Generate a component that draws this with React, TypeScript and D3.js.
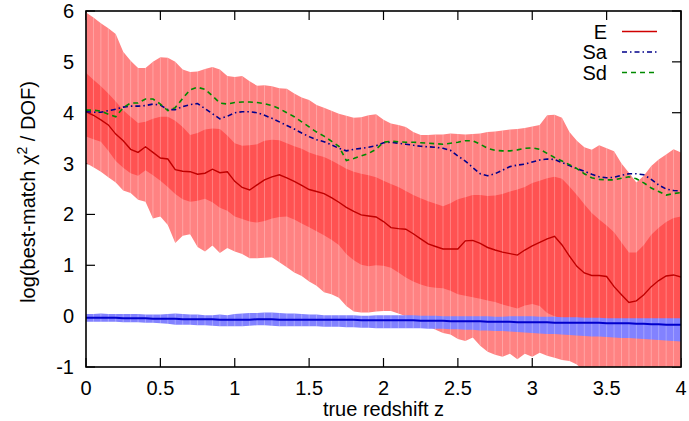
import React from "react";
import * as d3 from "d3";

const W = 689;
const H = 421;
const M = { left: 86, right: 681, top: 11, bottom: 367 };

// redshift grid (0 .. 4, step 0.05)
const zs: number[] = d3.range(81).map((i) => +(i * 0.05).toFixed(2));

const xTicks = [0, 0.5, 1, 1.5, 2, 2.5, 3, 3.5, 4];
const xTickLabels = ["0", "0.5", "1", "1.5", "2", "2.5", "3", "3.5", "4"];
const yTicks = [-1, 0, 1, 2, 3, 4, 5, 6];
const yTickLabels = ["-1", "0", "1", "2", "3", "4", "5", "6"];

// E: outer (light) band
const eOuterHi = [
  5.97, 5.87, 5.76, 5.66, 5.55, 5.2, 5.02, 4.88, 4.88, 5.0, 5.09,
  5.08, 5.0, 4.85, 4.8, 4.81, 4.86, 4.9, 4.85, 4.72, 4.7,
  4.72, 4.62, 4.53, 4.54, 4.52, 4.48, 4.47, 4.38, 4.3, 4.25,
  4.15, 4.1, 4.04, 3.98, 3.94, 3.9, 3.91, 3.95, 3.97, 3.86,
  3.79, 3.76, 3.72, 3.62, 3.56, 3.56, 3.57, 3.57, 3.59, 3.58,
  3.57, 3.58, 3.59, 3.62, 3.63, 3.65, 3.67, 3.68, 3.7, 3.73,
  3.76, 3.95, 3.96, 3.9, 3.62, 3.45, 3.32, 3.27, 3.36, 3.3,
  3.24, 3.0, 2.82, 2.63, 2.76, 2.95, 3.08, 3.18, 3.28, 3.22,
];
const eOuterLo = [
  3.01, 2.93, 2.84, 2.73, 2.63, 2.47, 2.42, 2.29, 2.25, 1.92, 1.96,
  1.79, 1.44, 1.58, 1.61, 1.36, 1.27, 1.39, 1.24, 1.34, 1.27,
  1.22, 1.14, 1.14, 1.15, 1.16, 1.06, 0.96, 0.86, 0.79, 0.68,
  0.6, 0.47, 0.43, 0.36, 0.2, 0.09, 0.07, 0.07, 0.09, 0.1,
  0.1, 0.05, 0.0, -0.06, -0.12, -0.2, -0.27, -0.33, -0.36, -0.45,
  -0.49, -0.42, -0.58, -0.7, -0.76, -0.8, -0.74, -0.85, -0.74, -0.8,
  -0.72, -0.78, -0.82, -0.86, -0.88, -0.95, -1.1, -1.2, -1.25, -1.3,
  -1.3, -1.3, -1.3, -1.3, -1.3, -1.3, -1.3, -1.3, -1.3, -1.3,
];
// E: inner (dark) band
const eInnerHi = [
  4.78, 4.65, 4.52, 4.38, 4.22, 4.05, 3.92, 3.8, 3.82, 3.88, 3.92,
  3.92, 3.84, 3.72, 3.56, 3.6, 3.67, 3.69, 3.68, 3.55, 3.4,
  3.35, 3.36, 3.38, 3.45, 3.47, 3.46, 3.4, 3.34, 3.29, 3.22,
  3.17, 3.13, 3.06, 2.98, 2.9, 2.84, 2.8, 2.77, 2.73, 2.66,
  2.6, 2.54, 2.46, 2.38, 2.32, 2.26, 2.21, 2.16, 2.22, 2.3,
  2.34, 2.38, 2.38, 2.36, 2.37, 2.4, 2.45, 2.49, 2.54, 2.62,
  2.66, 2.71, 2.74, 2.7, 2.55, 2.38, 2.2, 2.03, 1.9, 1.78,
  1.65, 1.45, 1.25, 1.25, 1.4, 1.6, 1.74, 1.85, 1.93, 1.96,
];
const eInnerLo = [
  3.53, 3.48, 3.43, 3.25, 3.05, 2.92, 2.81, 2.76, 2.87, 2.77, 2.66,
  2.54, 2.4, 2.3, 2.25, 2.27, 2.31, 2.24, 2.13, 2.07, 1.96,
  1.91, 1.86, 1.84, 1.87, 1.92, 1.95, 1.96, 1.9, 1.82, 1.75,
  1.67, 1.59, 1.5, 1.4, 1.22, 1.1, 1.01, 0.98, 1.0, 0.99,
  0.95, 0.86, 0.76, 0.68, 0.62, 0.58, 0.56, 0.55, 0.5, 0.43,
  0.4, 0.37, 0.34, 0.31, 0.28, 0.23, 0.19, 0.15, 0.21, 0.24,
  0.2, 0.06, 0.0, -0.05, -0.08, -0.12, -0.15, -0.18, -0.2, -0.22,
  -0.24, -0.26, -0.28, -0.28, -0.28, -0.28, -0.28, -0.28, -0.28, -0.28,
];
// E: median
const eMedian = [
  4.02, 3.95, 3.86, 3.76, 3.58, 3.45, 3.28, 3.22, 3.33, 3.22, 3.11,
  3.09, 2.88, 2.85, 2.84, 2.79, 2.81, 2.89, 2.82, 2.84, 2.65,
  2.53, 2.48, 2.58, 2.68, 2.74, 2.78, 2.72, 2.65, 2.57, 2.49,
  2.45, 2.41, 2.33, 2.24, 2.14, 2.06, 1.99, 1.97, 1.95, 1.86,
  1.74, 1.72, 1.71, 1.62, 1.52, 1.42, 1.37, 1.32, 1.32, 1.32,
  1.48, 1.49, 1.43, 1.35, 1.3, 1.26, 1.23, 1.2, 1.3, 1.38,
  1.45, 1.52, 1.57, 1.4, 1.18, 0.98, 0.85, 0.8, 0.8, 0.78,
  0.58, 0.42, 0.27, 0.3, 0.42, 0.58, 0.7, 0.79, 0.81, 0.77,
];
// Sa
const saMedian = [
  4.02, 4.01, 4.01, 4.04, 4.07, 4.11, 4.13, 4.13, 4.14, 4.17, 4.15,
  4.06, 4.06, 4.12, 4.16, 4.18, 4.08, 3.98, 3.88, 3.93, 4.0,
  4.02, 4.02, 4.0, 3.95, 3.89, 3.82, 3.75, 3.68, 3.6, 3.53,
  3.47, 3.43, 3.37, 3.3, 3.25, 3.28, 3.3, 3.32, 3.35, 3.41,
  3.42, 3.4, 3.38, 3.36, 3.34, 3.33, 3.32, 3.3, 3.26, 3.15,
  3.05, 2.92, 2.8, 2.76, 2.8, 2.87, 2.94, 2.97, 2.99, 3.03,
  3.07, 3.09, 3.08, 3.02, 2.96, 2.9, 2.85, 2.79, 2.74, 2.72,
  2.73, 2.77, 2.8, 2.8, 2.78, 2.69, 2.58, 2.5, 2.47, 2.46,
];
// Sd
const sdMedian = [
  4.05, 4.05, 4.03, 3.97, 3.92, 4.1, 4.19, 4.19, 4.27, 4.27, 4.17,
  4.04, 4.1, 4.28, 4.45, 4.5, 4.46, 4.33, 4.19, 4.17, 4.2,
  4.21, 4.21, 4.2, 4.18, 4.14, 4.08, 4.0, 3.92, 3.82, 3.72,
  3.62, 3.54, 3.44, 3.34, 3.06, 3.1, 3.15, 3.2, 3.28, 3.42,
  3.44, 3.43, 3.42, 3.42, 3.41, 3.4, 3.39, 3.38, 3.4, 3.42,
  3.45, 3.45, 3.38, 3.3, 3.26, 3.25, 3.25, 3.27, 3.3, 3.31,
  3.28, 3.2, 3.12, 3.05, 2.98, 2.9, 2.8, 2.72, 2.69, 2.68,
  2.68, 2.71, 2.74, 2.7, 2.62, 2.52, 2.45, 2.38, 2.41, 2.43,
];
// band and median near zero
const zeroHi = [
  0.04, 0.04, 0.05, 0.04, 0.04, 0.04, 0.04, 0.04, 0.03, 0.03, 0.03,
  0.04, 0.05, 0.04, 0.03, 0.03, 0.02, 0.02, 0.03, 0.02, 0.04,
  0.05, 0.06, 0.06, 0.07, 0.07, 0.06, 0.05, 0.05, 0.04, 0.03,
  0.03, 0.02, 0.02, 0.02, 0.02, 0.02, 0.01, 0.01, 0.02, 0.02,
  0.02, 0.02, 0.02, 0.02, 0.01, 0.01, 0.01, 0.0, 0.0, 0.0,
  0.0, 0.0, 0.0, 0.0, -0.01, -0.01, 0.0, 0.0, 0.0, 0.0,
  -0.01, -0.01, -0.01, -0.02, -0.02, -0.02, -0.03, -0.03, -0.03, -0.04,
  -0.04, -0.04, -0.04, -0.04, -0.04, -0.04, -0.04, -0.04, -0.04, -0.04,
];
const zeroLo = [
  -0.11, -0.11, -0.11, -0.11, -0.11, -0.12, -0.12, -0.12, -0.13, -0.13, -0.14,
  -0.15, -0.17, -0.17, -0.17, -0.18, -0.18, -0.19, -0.2, -0.2, -0.2,
  -0.2, -0.19, -0.18, -0.18, -0.19, -0.2, -0.2, -0.2, -0.2, -0.2,
  -0.2, -0.21, -0.21, -0.21, -0.22, -0.22, -0.23, -0.23, -0.24, -0.24,
  -0.24, -0.24, -0.24, -0.24, -0.24, -0.25, -0.25, -0.25, -0.26, -0.26,
  -0.27, -0.27, -0.28, -0.28, -0.29, -0.29, -0.3, -0.31, -0.32, -0.33,
  -0.34, -0.35, -0.35, -0.36, -0.37, -0.38, -0.39, -0.4, -0.4, -0.41,
  -0.42, -0.43, -0.43, -0.44, -0.45, -0.46, -0.47, -0.48, -0.49, -0.5,
];
const zeroMedian = [
  -0.03, -0.03, -0.03, -0.03, -0.03, -0.04, -0.04, -0.04, -0.04, -0.05, -0.05,
  -0.05, -0.05, -0.06, -0.06, -0.06, -0.06, -0.06, -0.07, -0.07, -0.07,
  -0.07, -0.07, -0.06, -0.06, -0.06, -0.07, -0.07, -0.07, -0.07, -0.07,
  -0.07, -0.07, -0.07, -0.07, -0.07, -0.07, -0.08, -0.08, -0.08, -0.08,
  -0.08, -0.08, -0.08, -0.08, -0.09, -0.09, -0.09, -0.09, -0.1, -0.1,
  -0.1, -0.1, -0.1, -0.11, -0.11, -0.11, -0.11, -0.12, -0.12, -0.12,
  -0.12, -0.12, -0.13, -0.13, -0.13, -0.13, -0.13, -0.13, -0.13, -0.14,
  -0.14, -0.14, -0.14, -0.15, -0.15, -0.16, -0.16, -0.17, -0.17, -0.17,
];

const legendNames = ["E", "Sa", "Sd"];

const FONT = "'Liberation Sans', Arial, Helvetica, sans-serif";
const FS = 20;

export default function App() {
  const x = d3.scaleLinear().domain([0, 4]).range([M.left, M.right]);
  const y = d3.scaleLinear().domain([-1, 6]).range([M.bottom, M.top]);

  const area = (lo: number[], hi: number[]) =>
    d3
      .area<number>()
      .x((_, i) => x(zs[i]))
      .y0((_, i) => y(lo[i]))
      .y1((_, i) => y(hi[i]))(zs) as string;
  const line = (vals: number[]) =>
    d3
      .line<number>()
      .x((_, i) => x(zs[i]))
      .y((_, i) => y(vals[i]))(zs) as string;

  const stripes = (lo: number[], hi: number[], key: string) =>
    zs.map((z, i) => (
      <line
        key={key + i}
        x1={x(z)}
        x2={x(z)}
        y1={y(lo[i])}
        y2={y(hi[i])}
        stroke="#ffffff"
        strokeOpacity={0.28}
        strokeWidth={1}
      />
    ));

  const tickLen = 9;
  const legendStyles = [
    { color: "#d00000", dash: "none" },
    { color: "#00008b", dash: "5,3,1.5,3" },
    { color: "#008a00", dash: "5,4" },
  ];
  const legendRows = [31.5, 52, 72.5];

  return (
    <svg
      width={W}
      height={H}
      style={{ position: "fixed", left: 0, top: 0, background: "#fff" }}
      fontFamily={FONT}
    >
      <defs>
        <clipPath id="plotClip">
          <rect x={M.left} y={M.top} width={M.right - M.left} height={M.bottom - M.top} />
        </clipPath>
      </defs>

      {/* ticks (behind data) */}
      <g stroke="#000" strokeWidth={1.2}>
        {xTicks.map((t) => (
          <g key={"xt" + t}>
            <line x1={x(t)} x2={x(t)} y1={M.bottom} y2={M.bottom - tickLen} />
            <line x1={x(t)} x2={x(t)} y1={M.top} y2={M.top + tickLen} />
          </g>
        ))}
        {yTicks.map((t) => (
          <g key={"yt" + t}>
            <line x1={M.left} x2={M.left + tickLen} y1={y(t)} y2={y(t)} />
            <line x1={M.right} x2={M.right - tickLen} y1={y(t)} y2={y(t)} />
          </g>
        ))}
      </g>

      <g clipPath="url(#plotClip)">
        <path d={area(eOuterLo, eOuterHi)} fill="#ff8282" />
        <path d={area(eInnerLo, eInnerHi)} fill="#ff5252" />
        {stripes(eOuterLo, eOuterHi, "e")}
        <path d={area(zeroLo, zeroHi)} fill="#8282ff" />
        {stripes(zeroLo, zeroHi, "z")}

        <path d={line(eMedian)} fill="none" stroke="#c00000" strokeWidth={1.4} />
        <path
          d={line(saMedian)}
          fill="none"
          stroke="#00008b"
          strokeWidth={1.6}
          strokeDasharray="5,3,1.5,3"
        />
        <path
          d={line(sdMedian)}
          fill="none"
          stroke="#008a00"
          strokeWidth={1.6}
          strokeDasharray="5,4"
        />
        <path d={line(zeroMedian)} fill="none" stroke="#0000cc" strokeWidth={2} />
      </g>

      {/* border */}
      <rect
        x={M.left}
        y={M.top}
        width={M.right - M.left}
        height={M.bottom - M.top}
        fill="none"
        stroke="#000"
        strokeWidth={1.6}
      />

      {/* tick labels */}
      <g fontSize={FS} fill="#000">
        {xTicks.map((t, i) => (
          <text key={"xl" + t} x={x(t)} y={395} textAnchor="middle">
            {xTickLabels[i]}
          </text>
        ))}
        {yTicks.map((t, i) => (
          <text key={"yl" + t} x={74} y={y(t) + 7} textAnchor="end">
            {yTickLabels[i]}
          </text>
        ))}
      </g>

      {/* axis titles */}
      <text x={(M.left + M.right) / 2} y={416} textAnchor="middle" fontSize={FS}>
        true redshift z
      </text>
      <text
        transform={`translate(35,192) rotate(-90)`}
        textAnchor="middle"
        fontSize={FS}
      >
        log(best-match χ
        <tspan dy={-8} fontSize={14}>
          2
        </tspan>
        <tspan dy={8}> / DOF)</tspan>
      </text>

      {/* legend */}
      <g fontSize={FS}>
        {legendNames.map((name, i) => {
          const cy = legendRows[i];
          return (
            <g key={name}>
              <text x={607} y={cy + 7} textAnchor="end">
                {name}
              </text>
              <line
                x1={622}
                x2={657}
                y1={cy}
                y2={cy}
                stroke={legendStyles[i].color}
                strokeWidth={1.5}
                strokeDasharray={legendStyles[i].dash}
              />
            </g>
          );
        })}
      </g>
    </svg>
  );
}
